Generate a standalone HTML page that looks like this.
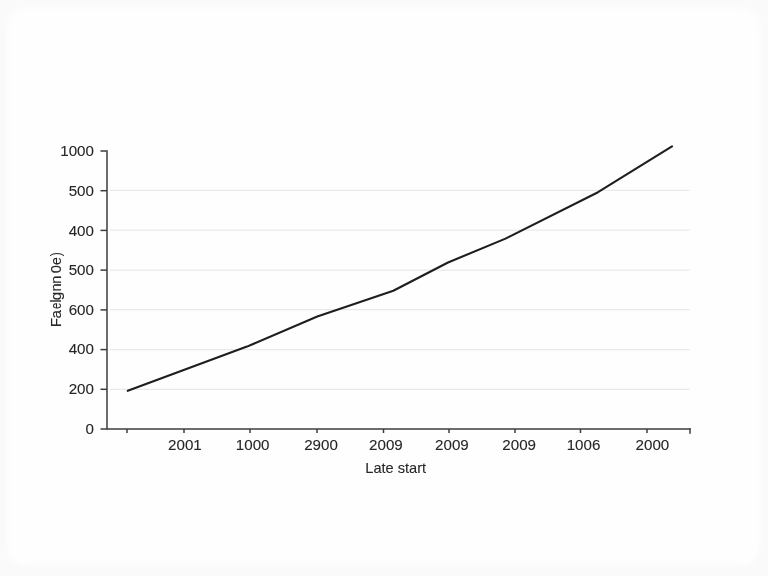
<!DOCTYPE html>
<html><head><meta charset="utf-8">
<style>
html,body{margin:0;padding:0;width:768px;height:576px;overflow:hidden;background:#fdfdfd;}
svg{display:block;filter:grayscale(1);}
text{font-family:"Liberation Sans",sans-serif;fill:#262626;stroke:#262626;stroke-width:0.1px;}
</style></head>
<body>
<svg width="768" height="576" viewBox="0 0 768 576">
<defs><filter id="bl" x="-5%" y="-5%" width="110%" height="110%"><feGaussianBlur stdDeviation="2"/></filter></defs>
<rect x="0" y="0" width="768" height="576" fill="#fafafa"/>
<rect x="7" y="8" width="753" height="557" rx="18" fill="#fefefe" filter="url(#bl)"/>

<g stroke="#e9e9e9" stroke-width="1.2">
<line x1="110" y1="190.4" x2="689.6" y2="190.4"/>
<line x1="110" y1="230.2" x2="689.6" y2="230.2"/>
<line x1="110" y1="270.2" x2="689.6" y2="270.2"/>
<line x1="110" y1="309.7" x2="689.6" y2="309.7"/>
<line x1="110" y1="349.7" x2="689.6" y2="349.7"/>
<line x1="110" y1="389.4" x2="689.6" y2="389.4"/>
</g>
<g stroke="#3c3c3c" stroke-width="1.5" fill="none">
<polyline points="100.5,151 107,151 107,429 100.5,429"/>
<line x1="107" y1="429" x2="690.5" y2="429"/>
<line x1="100.5" y1="190.7" x2="107" y2="190.7"/>
<line x1="100.5" y1="230.4" x2="107" y2="230.4"/>
<line x1="100.5" y1="270.1" x2="107" y2="270.1"/>
<line x1="100.5" y1="309.9" x2="107" y2="309.9"/>
<line x1="100.5" y1="349.6" x2="107" y2="349.6"/>
<line x1="100.5" y1="389.3" x2="107" y2="389.3"/>
<line x1="127" y1="429" x2="127" y2="433"/>
<line x1="184" y1="429" x2="184" y2="433"/>
<line x1="250" y1="429" x2="250" y2="433"/>
<line x1="317" y1="429" x2="317" y2="433"/>
<line x1="383.5" y1="429" x2="383.5" y2="433"/>
<line x1="449" y1="429" x2="449" y2="433"/>
<line x1="515" y1="429" x2="515" y2="433"/>
<line x1="580.5" y1="429" x2="580.5" y2="433"/>
<line x1="647" y1="429" x2="647" y2="433"/>
<line x1="690" y1="428.25" x2="690" y2="433.8"/>
</g>
<polyline points="127.8,390.8 247,346.6 317.3,316.5 393.3,290.7 448,262.5 505.5,238.6 598,192.2 672,146.4" fill="none" stroke="#1e1e1e" stroke-width="2.1" stroke-linecap="round" stroke-linejoin="round"/>
<g font-size="14.3" text-anchor="end">
<text transform="translate(93.9,156.40) scale(1.06,1)">1000</text>
<text transform="translate(93.9,196.05) scale(1.06,1)">500</text>
<text transform="translate(93.9,235.50) scale(1.06,1)">400</text>
<text transform="translate(93.9,275.10) scale(1.06,1)">500</text>
<text transform="translate(93.9,314.85) scale(1.06,1)">600</text>
<text transform="translate(93.9,354.05) scale(1.06,1)">400</text>
<text transform="translate(93.9,394.15) scale(1.06,1)">200</text>
<text transform="translate(93.9,433.60) scale(1.06,1)">0</text>
</g>
<g font-size="14.3" text-anchor="middle">
<text transform="translate(184.9,449.6) scale(1.06,1)">2001</text>
<text transform="translate(252.7,449.6) scale(1.06,1)">1000</text>
<text transform="translate(321,449.6) scale(1.06,1)">2900</text>
<text transform="translate(385.9,449.6) scale(1.06,1)">2009</text>
<text transform="translate(451.9,449.6) scale(1.06,1)">2009</text>
<text transform="translate(519.2,449.6) scale(1.06,1)">2009</text>
<text transform="translate(583.5,449.6) scale(1.06,1)">1006</text>
<text transform="translate(652.4,449.6) scale(1.06,1)">2000</text>
</g>
<text transform="translate(365.3,473.2) scale(1.0,1)" font-size="14.6">Late start</text>
<g font-size="14.5">
<text transform="translate(60.8,326) rotate(-90) translate(-1.24,0) scale(1.044,1)">F</text>
<text transform="translate(60.8,326) rotate(-90) translate(7.56,0) scale(1.047,1)">a</text>
<text transform="translate(60.8,326) rotate(-90) translate(16.92,0) scale(0.792,1)">e</text>
<text transform="translate(60.8,326) rotate(-90) translate(23.33,0) scale(1.097,1)">l</text>
<text transform="translate(60.8,326) rotate(-90) translate(25.76,0) scale(1.057,1)">g</text>
<text transform="translate(60.8,326) rotate(-90) translate(34.44,0) scale(1.006,1)">n</text>
<text transform="translate(60.8,326) rotate(-90) translate(42.24,0) scale(1.006,1)">n</text>
<text transform="translate(60.8,326) rotate(-90) translate(52.83,0) scale(1.010,1)">0</text>
<text transform="translate(60.8,326) rotate(-90) translate(60.90,0) scale(0.983,1)">e</text>
<text transform="translate(60.8,326) rotate(-90) translate(69.73,0) scale(0.833,1)">)</text>
</g>
</svg>
</body></html>
